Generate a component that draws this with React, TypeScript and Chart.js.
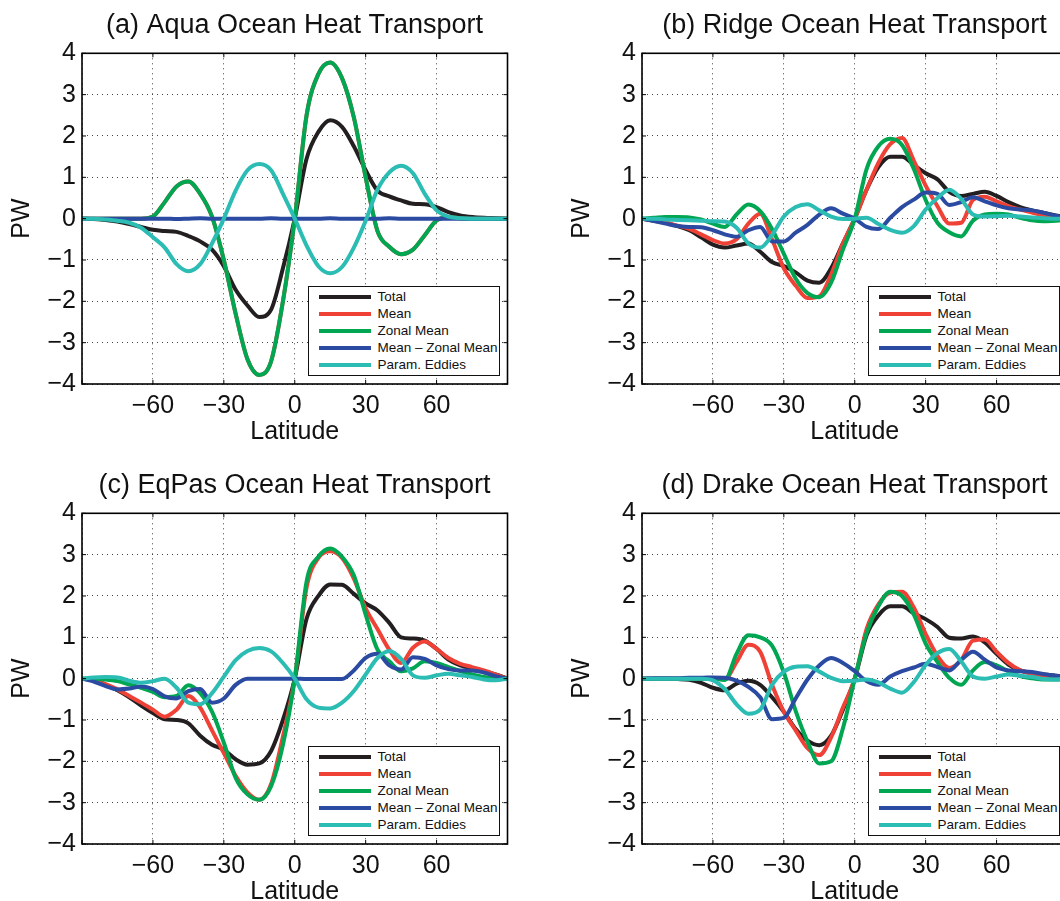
import React, { useEffect, useRef } from "react";
import { Chart, registerables } from "chart.js";

Chart.register(...registerables);

// ---------- data ----------
const latitudes = [
  -90, -85, -80, -75, -70, -65, -60, -55, -50, -45, -40, -35, -30, -25, -20, -15, -10, -5, 0,
  5, 10, 15, 20, 25, 30, 35, 40, 45, 50, 55, 60, 65, 70, 75, 80, 85, 90,
];

const xTickValues = [-90, -60, -30, 0, 30, 60, 90];
const yTickValues = [-4, -3, -2, -1, 0, 1, 2, 3, 4];

const seriesLabels = ["Total", "Mean", "Zonal Mean", "Mean \u2013 Zonal Mean", "Param. Eddies"];
const seriesColors = ["#231f20", "#ef4136", "#00a651", "#2b4aa2", "#2bbcb3"];

const panelTitles = [
  "(a) Aqua Ocean Heat Transport",
  "(b) Ridge Ocean Heat Transport",
  "(c) EqPas Ocean Heat Transport",
  "(d) Drake Ocean Heat Transport",
];

// (a) Aqua
const aquaTotal = [0, -0.01, -0.03, -0.07, -0.13, -0.2, -0.27, -0.3, -0.32, -0.42, -0.55, -0.75, -1.15, -1.72, -2.1, -2.38, -2.2, -1.2, 0, 1.45, 2.1, 2.38, 2.22, 1.75, 1.17, 0.68, 0.54, 0.44, 0.36, 0.35, 0.28, 0.16, 0.08, 0.04, 0.02, 0.01, 0];
const aquaMean = [0, 0, 0, 0, 0, 0, 0.05, 0.4, 0.78, 0.9, 0.6, 0.05, -1.0, -2.3, -3.4, -3.78, -3.45, -2.0, 0, 2.5, 3.5, 3.78, 3.4, 2.45, 1.0, -0.3, -0.68, -0.86, -0.75, -0.4, -0.04, 0.03, 0.01, 0, 0, 0, 0];
const aquaZonal = [0, 0, 0, 0, 0, 0, 0.05, 0.4, 0.78, 0.9, 0.6, 0.05, -1.0, -2.3, -3.4, -3.78, -3.45, -2.0, 0, 2.5, 3.5, 3.78, 3.4, 2.45, 1.0, -0.3, -0.68, -0.86, -0.75, -0.4, -0.04, 0.03, 0.01, 0, 0, 0, 0];
const aquaEddy = [0, 0, 0, 0, 0, 0, 0, 0, -0.01, 0, 0.01, 0, 0, 0, 0, 0, 0.01, 0, 0, 0, 0, 0.01, 0, 0, 0, 0, 0.01, 0, 0, 0, 0, 0, 0, 0, 0, 0, 0];
const aquaParam = [0, 0, -0.02, -0.05, -0.1, -0.22, -0.45, -0.7, -1.1, -1.27, -1.1, -0.6, 0.0, 0.68, 1.17, 1.32, 1.17, 0.6, 0, -0.65, -1.15, -1.32, -1.17, -0.7, -0.05, 0.7, 1.12, 1.28, 1.1, 0.6, 0.2, 0.05, 0.01, 0, 0, 0, 0];

// (b) Ridge
const ridgeTotal = [0, -0.05, -0.1, -0.18, -0.28, -0.45, -0.63, -0.7, -0.65, -0.6, -0.8, -1.05, -1.15, -1.3, -1.5, -1.55, -1.2, -0.6, 0, 0.7, 1.25, 1.5, 1.5, 1.3, 1.1, 0.95, 0.65, 0.55, 0.6, 0.65, 0.55, 0.4, 0.28, 0.2, 0.14, 0.08, 0.03];
const ridgeMean = [0, -0.04, -0.1, -0.17, -0.25, -0.38, -0.52, -0.6, -0.5, -0.12, 0.12, -0.5, -1.2, -1.62, -1.92, -1.88, -1.35, -0.6, 0, 0.7, 1.35, 1.8, 1.95, 1.4, 0.8, 0.3, -0.12, -0.1, 0.45, 0.53, 0.42, 0.3, 0.22, 0.15, 0.08, 0.04, 0.02];
const ridgeZonal = [0, 0.02, 0.04, 0.04, 0.03, -0.02, -0.12, -0.2, 0.1, 0.34, 0.18, -0.25, -0.85, -1.45, -1.8, -1.9, -1.55, -0.75, 0, 1.2, 1.75, 1.93, 1.78, 1.2, 0.45, -0.1, -0.33, -0.43, -0.05, 0.1, 0.12, 0.1, 0.02, -0.04, -0.06, -0.05, -0.03];
const ridgeEddy = [0, -0.06, -0.12, -0.18, -0.2, -0.21, -0.28, -0.38, -0.44, -0.28, -0.2, -0.55, -0.55, -0.34, -0.15, 0.1, 0.25, 0.12, 0, -0.2, -0.25, 0.02, 0.28, 0.46, 0.63, 0.6, 0.33, 0.4, 0.52, 0.42, 0.32, 0.25, 0.22, 0.2, 0.14, 0.07, 0.03];
const ridgeParam = [0, 0, -0.02, -0.03, -0.04, -0.05, -0.06, -0.07, -0.22, -0.6, -0.7, -0.4, 0.05, 0.28, 0.35, 0.2, 0.05, -0.01, 0, 0.02, -0.13, -0.27, -0.34, -0.18, 0.22, 0.5, 0.7, 0.48, 0.1, 0.05, 0.06, 0.07, 0.05, 0.03, 0.01, 0, 0];

// (c) EqPas
const eqpasTotal = [0, -0.04, -0.15, -0.28, -0.45, -0.65, -0.83, -0.98, -1.0, -1.08, -1.38, -1.6, -1.72, -1.95, -2.08, -2.05, -1.75, -1.0, 0, 1.45, 2.0, 2.28, 2.27, 2.05, 1.82, 1.65, 1.35, 1.0, 0.97, 0.92, 0.72, 0.46, 0.32, 0.25, 0.18, 0.1, 0];
const eqpasMean = [0, -0.04, -0.13, -0.26, -0.42, -0.58, -0.75, -0.92, -0.75, -0.42, -0.7, -1.25, -1.8, -2.35, -2.75, -2.93, -2.55, -1.4, 0, 2.2, 2.92, 3.08, 2.92, 2.42, 1.7, 1.2, 0.7, 0.38, 0.75, 0.9, 0.72, 0.5, 0.36, 0.28, 0.2, 0.1, 0];
const eqpasZonal = [0, 0, -0.02, -0.06, -0.14, -0.22, -0.32, -0.45, -0.42, -0.16, -0.35, -0.8, -1.55, -2.4, -2.8, -2.93, -2.6, -1.6, 0, 2.35, 2.95, 3.15, 2.95, 2.5, 1.55, 0.7, 0.42, 0.18, 0.25, 0.42, 0.38, 0.28, 0.18, 0.1, 0.04, 0.01, 0];
const eqpasEddy = [0, -0.07, -0.18, -0.26, -0.24, -0.19, -0.25, -0.43, -0.48, -0.3, -0.25, -0.58, -0.48, -0.15, 0, 0, 0, 0, 0, -0.01, -0.01, -0.01, -0.01, 0.2, 0.5, 0.6, 0.32, 0.22, 0.52, 0.48, 0.32, 0.23, 0.2, 0.2, 0.15, 0.06, 0];
const eqpasParam = [0, 0.03, 0.04, 0.03, -0.05, -0.1, -0.06, 0, -0.22, -0.58, -0.62, -0.35, 0.05, 0.45, 0.67, 0.74, 0.66, 0.38, 0, -0.5, -0.7, -0.72, -0.58, -0.3, 0.1, 0.5, 0.67, 0.48, 0.08, 0.02, 0.08, 0.12, 0.08, 0.04, -0.02, -0.04, 0];

// (d) Drake
const drakeTotal = [0, 0, 0, -0.01, -0.03, -0.1, -0.22, -0.28, -0.12, -0.05, -0.15, -0.45, -0.8, -1.22, -1.5, -1.61, -1.38, -0.75, 0, 1.05, 1.53, 1.75, 1.75, 1.58, 1.44, 1.25, 0.99, 0.97, 1.02, 0.88, 0.6, 0.34, 0.2, 0.14, 0.1, 0.07, 0.04];
const drakeMean = [0, 0, 0, 0, 0, 0, 0, -0.02, 0.4, 0.82, 0.65, -0.15, -0.8, -1.25, -1.68, -1.85, -1.42, -0.7, 0, 1.2, 1.8, 2.08, 2.1, 1.72, 1.08, 0.55, 0.26, 0.45, 0.92, 0.95, 0.65, 0.38, 0.2, 0.12, 0.08, 0.05, 0.02];
const drakeZonal = [0, 0, 0, 0, 0, 0, 0, -0.03, 0.6, 1.05, 1.0, 0.8, 0.15, -0.78, -1.52, -2.05, -2.0, -1.2, 0, 1.1, 1.75, 2.1, 2.0, 1.55, 0.85, 0.4, 0.02, -0.15, 0.2, 0.4, 0.32, 0.18, 0.06, 0.01, -0.02, -0.02, 0];
const drakeEddy = [0, 0.01, 0.01, 0.01, 0.02, 0.02, 0.03, 0.02, -0.05, -0.2, -0.45, -0.98, -0.95, -0.48, -0.02, 0.32, 0.5, 0.38, 0.18, -0.06, -0.15, 0.05, 0.18, 0.27, 0.36, 0.28, 0.2, 0.45, 0.65, 0.46, 0.27, 0.2, 0.18, 0.16, 0.11, 0.07, 0.04];
const drakeParam = [0, 0, 0, 0, 0, 0, -0.04, -0.25, -0.62, -0.85, -0.75, -0.15, 0.17, 0.29, 0.3, 0.17, 0.02, -0.06, -0.05, -0.02, -0.09, -0.24, -0.34, -0.08, 0.33, 0.62, 0.72, 0.42, 0.05, 0, 0.05, 0.1, 0.07, 0.04, -0.01, -0.02, 0];

const panelSeries = [
  [aquaTotal, aquaMean, aquaZonal, aquaEddy, aquaParam],
  [ridgeTotal, ridgeMean, ridgeZonal, ridgeEddy, ridgeParam],
  [eqpasTotal, eqpasMean, eqpasZonal, eqpasEddy, eqpasParam],
  [drakeTotal, drakeMean, drakeZonal, drakeEddy, drakeParam],
];

// ---------- layout ----------
const CANVAS_W = 589;
const CANVAS_H = 460;
const AREA_LEFT = 82;
const AREA_RIGHT_PAD = 81.5;
const AREA_TOP = 53.3;
const XAXIS_H = 76;
const TITLE_SIZE = 27;
const TITLE_PAD_TOP = 9.3;
const panelPos = [
  { left: 0, top: 0 },
  { left: 560, top: 0 },
  { left: 0, top: 460 },
  { left: 560, top: 460 },
];

const FONT = '"Liberation Sans", Arial, Helvetica, sans-serif';
const fmt = (v: number) => (v < 0 ? "\u2212" + Math.abs(v) : String(v));

const framePlugin = {
  id: "frame",
  afterDatasetsDraw(chart: any) {
    const { ctx, chartArea, scales } = chart;
    const { left, right, top, bottom } = chartArea;
    ctx.save();
    ctx.strokeStyle = "#000";
    ctx.lineWidth = 1;
    const tl = 4;
    ctx.beginPath();
    xTickValues.forEach((v) => {
      const x = scales.x.getPixelForValue(v);
      ctx.moveTo(x, bottom);
      ctx.lineTo(x, bottom - tl);
      ctx.moveTo(x, top);
      ctx.lineTo(x, top + tl);
    });
    yTickValues.forEach((v) => {
      const y = scales.y.getPixelForValue(v);
      ctx.moveTo(left, y);
      ctx.lineTo(left + tl, y);
      ctx.moveTo(right, y);
      ctx.lineTo(right - tl, y);
    });
    ctx.stroke();
    ctx.lineWidth = 1.6;
    ctx.strokeRect(left, top, right - left, bottom - top);
    ctx.restore();
  },
};

function Legend() {
  const rowY = (i: number) => 11.5 + 16.9 * i;
  return (
    <div
      style={{
        position: "absolute",
        left: 307.5,
        top: 286,
        width: 192,
        height: 89.5,
        boxSizing: "border-box",
        border: "1.5px solid #111",
        background: "#fff",
        fontFamily: FONT,
      }}
    >
      {seriesLabels.map((lab, i) => (
        <React.Fragment key={lab}>
          <div
            style={{
              position: "absolute",
              left: 10.5,
              top: rowY(i) - 2 - 1.5,
              width: 52,
              height: 4,
              background: seriesColors[i],
            }}
          />
          <div
            style={{
              position: "absolute",
              left: 69,
              top: rowY(i) - 8 - 1.5,
              height: 16,
              lineHeight: "16px",
              fontSize: 13.5,
              color: "#111",
              whiteSpace: "nowrap",
            }}
          >
            {lab}
          </div>
        </React.Fragment>
      ))}
    </div>
  );
}

function Panel({ index }: { index: number }) {
  const ref = useRef<HTMLCanvasElement>(null);
  useEffect(() => {
    const series = panelSeries[index];
    const chart = new Chart(ref.current as HTMLCanvasElement, {
      type: "line",
      data: {
        datasets: series.map((vals, i) => ({
          label: seriesLabels[i],
          data: latitudes.map((lat, j) => ({ x: lat, y: vals[j] })),
          borderColor: seriesColors[i],
          backgroundColor: seriesColors[i],
          borderWidth: 4,
          pointRadius: 0,
          fill: false,
          cubicInterpolationMode: "monotone",
          order: series.length - i,
        })),
      },
      options: {
        responsive: false,
        animation: false,
        events: [],
        layout: { padding: 0 },
        font: { family: FONT },
        plugins: {
          legend: { display: false },
          tooltip: { enabled: false },
          title: {
            display: true,
            text: panelTitles[index],
            color: "#111",
            font: { family: FONT, size: TITLE_SIZE, weight: "normal", lineHeight: 1.2 },
            padding: { top: TITLE_PAD_TOP, bottom: AREA_TOP - TITLE_PAD_TOP - TITLE_SIZE * 1.2 },
          },
        },
        scales: {
          x: {
            type: "linear",
            min: -90,
            max: 90,
            afterBuildTicks: (s: any) => {
              s.ticks = xTickValues.map((value) => ({ value }));
            },
            afterFit: (s: any) => {
              s.height = XAXIS_H;
            },
            ticks: {
              autoSkip: false,
              maxRotation: 0,
              padding: 7,
              color: "#111",
              font: { family: FONT, size: 25 },
              callback: (v: any) => (Math.abs(v) === 90 ? "" : fmt(Number(v))),
            },
            grid: { color: "#444", lineWidth: 1, drawTicks: false, borderDash: [1, 4] },
            border: { display: false, dash: [1, 4] },
            title: {
              display: true,
              text: "Latitude",
              color: "#111",
              font: { family: FONT, size: 25 },
              padding: { top: 0, bottom: 13 },
            },
          },
          y: {
            type: "linear",
            position: "left",
            min: -4,
            max: 4,
            afterBuildTicks: (s: any) => {
              s.ticks = yTickValues.map((value) => ({ value }));
            },
            afterFit: (s: any) => {
              s.width = AREA_LEFT;
            },
            ticks: {
              padding: 6,
              color: "#111",
              font: { family: FONT, size: 25 },
              callback: (v: any) => fmt(Number(v)),
            },
            grid: { color: "#444", lineWidth: 1, drawTicks: false, borderDash: [1, 4] },
            border: { display: false, dash: [1, 4] },
            title: {
              display: true,
              text: "PW",
              color: "#111",
              font: { family: FONT, size: 25 },
              padding: { top: 7.5, bottom: 0 },
            },
          },
          ySpacer: {
            type: "linear",
            position: "right",
            min: -4,
            max: 4,
            afterFit: (s: any) => {
              s.width = AREA_RIGHT_PAD;
            },
            ticks: { display: false },
            grid: { display: false, drawOnChartArea: false, drawTicks: false },
            border: { display: false },
            title: { display: false },
          },
        },
      } as any,
      plugins: [framePlugin],
    });
    return () => chart.destroy();
  }, [index]);

  const pos = panelPos[index];
  return (
    <div style={{ position: "absolute", left: pos.left, top: pos.top, width: CANVAS_W, height: CANVAS_H }}>
      <canvas ref={ref} width={CANVAS_W} height={CANVAS_H} style={{ display: "block", width: CANVAS_W, height: CANVAS_H }} />
      <Legend />
    </div>
  );
}

export default function App() {
  return (
    <div
      style={{
        position: "absolute",
        left: 0,
        top: 0,
        width: 1060,
        height: 901,
        overflow: "hidden",
        background: "#fff",
      }}
    >
      {[0, 1, 2, 3].map((i) => (
        <Panel key={i} index={i} />
      ))}
    </div>
  );
}
